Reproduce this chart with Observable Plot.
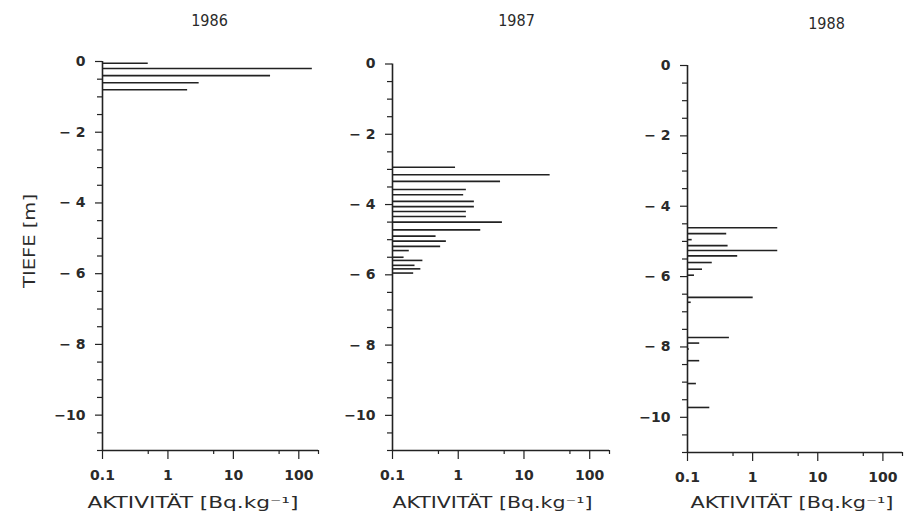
<!DOCTYPE html>
<html>
<head>
<meta charset="utf-8">
<script src="https://cdn.jsdelivr.net/npm/d3@7"></script>
<script src="https://cdn.jsdelivr.net/npm/@observablehq/plot@0.6"></script>
<style>
  body { margin: 0; background: #fff; }
  #chart { position: relative; width: 912px; height: 517px; overflow: hidden; background: #fff; }
  #chart svg { position: absolute; top: 0; overflow: visible; }
</style>
</head>
<body>
<div id="chart"></div>
<script>
// ---- data ----
const years = ["1986", "1987", "1988"];

const depth1986 = [-0.05, -0.2, -0.4, -0.6, -0.8];
const act1986   = [0.5, 161, 37, 3.0, 2.0];

const depth1987 = [-2.94, -3.15, -3.34, -3.57, -3.72, -3.91, -4.06, -4.20, -4.34, -4.50,
                   -4.72, -4.90, -5.04, -5.19, -5.31, -5.50, -5.59, -5.73, -5.83, -5.95];
const act1987   = [0.91, 25, 4.4, 1.33, 1.21, 1.76, 1.76, 1.33, 1.33, 4.7,
                   2.2, 0.46, 0.66, 0.54, 0.18, 0.15, 0.29, 0.22, 0.27, 0.21];

const depth1988 = [-4.61, -4.78, -4.95, -5.12, -5.26, -5.41, -5.60, -5.79, -5.96,
                   -6.59, -6.73, -7.73, -7.89, -8.06, -8.39, -9.04, -9.72];
const act1988   = [2.43, 0.40, 0.118, 0.42, 2.43, 0.59, 0.24, 0.17, 0.128,
                   1.02, 0.114, 0.44, 0.154, 0.107, 0.154, 0.137, 0.22];

const xTickMajor  = [0.1, 1, 10, 100];
const xTickLabels = ["0.1", "1", "10", "100"];
const xTickMinor  = [0.5, 5, 50, 200];
const yTickMajor  = [0, -2, -4, -6, -8, -10];
const yTickLabels = ["0", "\u2212 2", "\u2212 4", "\u2212 6", "\u2212 8", "\u221210"];
const yTickMinor  = [-0.5, -1, -1.5, -2.5, -3, -3.5, -4.5, -5, -5.5, -6.5, -7, -7.5,
                     -8.5, -9, -9.5, -10.5, -11];
const xLabelText = "AKTIVIT\u00C4T [Bq.kg\u207B\u00B9]";
const yLabelText = "TIEFE [m]";

// ---- layout (pixel positions, not data) ----
const panels = [
  {year: years[0], depth: depth1986, act: act1986, left: 0,   axisX: 102, top: 61,   w: 216, h: 389,
   titleDx: 107, titleDy: -47, labDx: -15, labDy: 57, labW: 211, ylabel: true},
  {year: years[1], depth: depth1987, act: act1987, left: 330, axisX: 392, top: 63.5, w: 217, h: 386.5,
   titleDx: 124, titleDy: -49.5, labDx: 0, labDy: 57, labW: 200, ylabel: false},
  {year: years[2], depth: depth1988, act: act1988, left: 625, axisX: 687, top: 65,   w: 215, h: 387,
   titleDx: 139, titleDy: -48, labDx: 3, labDy: 55, labW: 203, ylabel: false}
];

const ink = "#222";
const cond = "'DejaVu Sans Condensed', 'DejaVu Sans', sans-serif";
const chart = document.getElementById("chart");

for (const p of panels) {
  const rows = p.depth.map((d, i) => ({depth: d, act: p.act[i]}));
  const marginLeft = p.axisX - p.left;
  const marginRight = 12;
  const marginBottom = 517 - p.top - p.h;
  const marks = [
    Plot.ruleX([0.1], {stroke: ink, strokeWidth: 1.6}),
    Plot.ruleY([-11], {stroke: ink, strokeWidth: 1.6}),
    Plot.axisY(yTickMinor, {anchor: "left", tickSize: 5, tickFormat: () => "", label: null, stroke: ink, strokeWidth: 1.2}),
    Plot.axisY(yTickMajor, {anchor: "left", tickSize: 7, tickPadding: 10, label: null,
      tickFormat: d => yTickLabels[yTickMajor.indexOf(d)],
      fontSize: 14, fontWeight: "bold", fontFamily: "'DejaVu Sans', sans-serif", fill: "#2a2a2a", stroke: ink, strokeWidth: 1.2}),
    Plot.axisX(xTickMinor, {anchor: "bottom", tickSize: 4, tickFormat: () => "", label: null, stroke: ink, strokeWidth: 1.2}),
    Plot.axisX(xTickMajor, {anchor: "bottom", tickSize: 9, tickPadding: 11, label: null,
      tickFormat: d => xTickLabels[xTickMajor.indexOf(d)],
      fontSize: 14, fontWeight: "bold", fontFamily: "'DejaVu Sans', sans-serif", fill: "#2a2a2a", stroke: ink, strokeWidth: 1.2}),
    Plot.ruleY(rows, {y: "depth", x1: () => 0.1, x2: "act", stroke: ink, strokeWidth: 1.6}),
    Plot.text([p.year], {frameAnchor: "top-left", dx: p.titleDx, dy: p.titleDy, text: d => d,
      fontSize: 16, fontFamily: cond, textAnchor: "middle", fill: "#2a2a2a"}),
    Plot.text([xLabelText], {frameAnchor: "bottom-left", dx: p.labDx, dy: p.labDy, text: d => d,
      fontSize: 16, fontFamily: cond, textAnchor: "start", fill: "#2a2a2a"})
  ];
  if (p.ylabel) {
    marks.push(Plot.text([yLabelText], {frameAnchor: "left", rotate: -90, dx: -73, dy: -15, text: d => d,
      fontSize: 16, fontFamily: cond, textAnchor: "middle", fill: "#2a2a2a"}));
  }
  const svg = Plot.plot({
    width: marginLeft + p.w + marginRight,
    height: 517,
    marginLeft, marginRight, marginTop: p.top, marginBottom,
    x: {type: "log", domain: [0.1, 200]},
    y: {type: "linear", domain: [-11, 0]},
    style: {background: "transparent", color: ink, overflow: "visible"},
    marks
  });
  svg.style.left = p.left + "px";
  svg.querySelectorAll("text").forEach(t => {
    if (t.textContent === xLabelText) {
      t.setAttribute("textLength", p.labW);
      t.setAttribute("lengthAdjust", "spacingAndGlyphs");
    } else if (t.textContent === yLabelText) {
      t.setAttribute("textLength", 94);
      t.setAttribute("lengthAdjust", "spacingAndGlyphs");
    }
  });
  chart.appendChild(svg);
}
</script>
</body>
</html>
